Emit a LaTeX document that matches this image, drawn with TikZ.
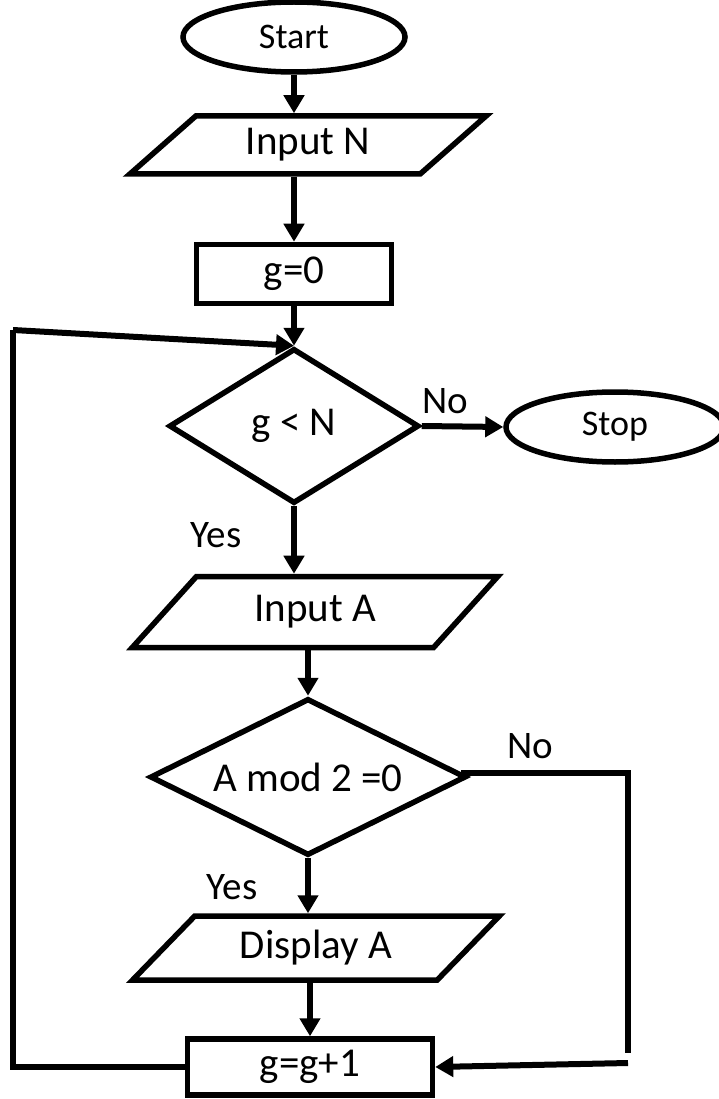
\documentclass[tikz,border=0pt]{standalone}
\usepackage{fontspec}
\setmainfont{Carlito}
\usepackage{tikz}
\usetikzlibrary{shapes.geometric,arrows.meta}
\tikzset{
    TE/.style ={ellipse, draw, line width=5.5pt, inner sep=0pt, font=\fontsize{36}{43}\selectfont},
    PA/.style ={trapezium, trapezium left angle=42, trapezium right angle=138, trapezium stretches=true, draw, line width=5.5pt, inner sep=0pt, minimum width=357pt, font=\fontsize{41}{49}\selectfont},
    RA/.style ={rectangle, draw, line width=5.5pt, inner sep=0pt, font=\fontsize{41}{49}\selectfont},
    DI/.style ={diamond, aspect=2, draw, line width=5.5pt, inner sep=0pt, font=\fontsize{41}{49}\selectfont},
    LA/.style ={inner sep=0pt, font=\fontsize{39}{47}\selectfont},
    LI/.style ={line width=6pt},
    AR/.style ={line width=6pt, -{Triangle[length=18pt,width=20pt]}}
}
\begin{document}
\begin{tikzpicture}[x=1pt,y=-1pt]
        \useasboundingbox (0,0) rectangle (718,1099);
        \node[TE, minimum width=222pt, minimum height=70pt] (start) at (294,37) {Start};
        \node[PA, minimum height=58pt] (inN) at (308,145) {Input N};
        \node[RA, minimum width=195pt, minimum height=59pt] (g0) at (294,274) {g=0};
        \node[DI, minimum width=250pt, minimum height=155pt] (cmp) at (294,426) {g < N};
        \node[TE, minimum width=218pt, minimum height=70pt] (stop) at (615,427) {Stop};
        \node[PA, trapezium left angle=45, trapezium right angle=135, minimum width=366pt, minimum height=71pt] (inA) at (315,612) {Input A};
        \node[DI, minimum width=316pt, minimum height=157pt] (even) at (308,777) {A mod 2 =0};
        \node[PA, minimum width=368pt, minimum height=64pt] (disp) at (316,948) {Display A};
        \node[RA, minimum width=245pt, minimum height=56pt] (inc) at (310,1067) {g=g+1};
        % labels
        \node[LA] (no1) at (445,401) {No};
        \node[LA] (yes1) at (216,535) {Yes};
        \node[LA] (no2) at (530,746) {No};
        \node[LA] (yes2) at (232,887) {Yes};
        % free ends of the loops
        \coordinate (nocorner) at (628,773);
        \coordinate (noend) at (628,1063);
        \coordinate (loopbot) at (13,1067);
        \coordinate (looptop) at (13,330);
        \draw[AR] (start.south) -- (start.south |- inN.north);
        \draw[AR] (g0.north |- inN.south) -- (g0.north);
        \draw[AR] (g0.south) -- (cmp.north);
        \draw[AR] (cmp.east) -- (stop.west);
        \draw[AR] (cmp.south) -- (cmp.south |- inA.north);
        \draw[AR] (even.north |- inA.south) -- (even.north);
        \draw[AR] (even.south) -- (even.south |- disp.north);
        \draw[AR] (inc.north |- disp.south) -- (inc.north);
        \draw[LI] ([xshift=-8pt]even.east |- nocorner) -- (nocorner) -- ([yshift=10pt]noend);
        \draw[AR] (noend) -- (inc.east);
        \draw[LI] (inc.west) -- (loopbot) -- (looptop);
        \draw[AR] (looptop) -- (cmp.north);
    \end{tikzpicture}
\end{document}
